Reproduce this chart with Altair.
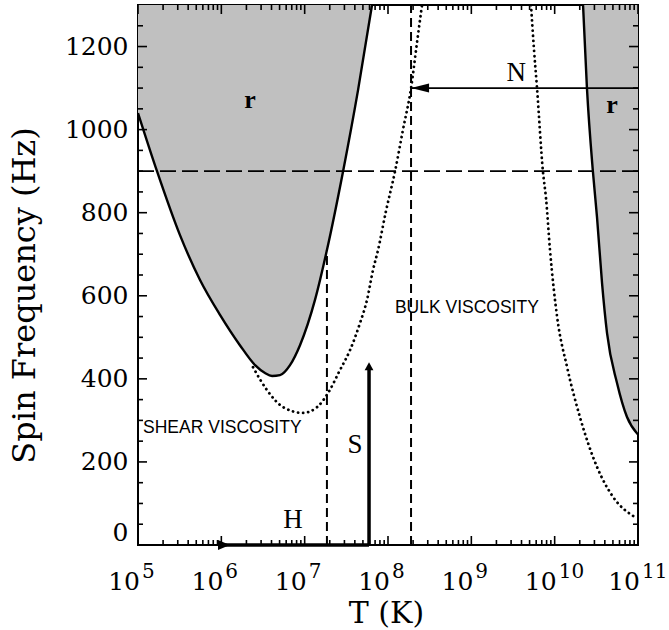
import altair as alt
import pandas as pd

# ---------------- data ----------------
# left instability window (solid boundary, shaded above)
left_T = [1.00e5, 1.69e5, 3.19e5, 5.55e5, 9.64e5, 1.67e6, 2.54e6, 3.34e6, 4.06e6,
          5.06e6, 6.67e6, 8.79e6, 1.33e7, 1.85e7, 2.88e7, 4.37e7, 6.43e7]
left_f = [1040, 900, 746, 638, 554, 481, 433, 414, 407,
          409, 433, 481, 590, 710, 898, 1095, 1300]

# right instability window (solid boundary, shaded above)
right_T = [2.19e10, 2.44e10, 2.88e10, 3.22e10, 3.70e10, 4.25e10, 5.60e10, 7.38e10, 1.0e11]
right_f = [1300, 1100, 898, 790, 631, 510, 390, 308, 266]

# dotted curves (shear + bulk viscosity)
dot_left_T = [2.40e6, 3.53e6, 5.50e6, 9.55e6, 1.41e7, 1.91e7, 2.65e7, 3.50e7, 4.61e7,
              5.60e7, 6.61e7, 7.59e7, 9.46e7, 1.21e8, 1.51e8, 1.89e8, 2.23e8, 2.56e8]
dot_left_f = [428, 373, 332, 318, 332, 366, 421, 469, 534,
              590, 662, 710, 804, 898, 999, 1100, 1210, 1300]
dot_right_T = [5.20e9, 5.65e9, 6.14e9, 7.24e9, 7.87e9, 8.79e9, 1.07e10, 1.41e10,
               2.01e10, 3.22e10, 5.01e10, 9.20e10]
dot_right_f = [1300, 1192, 1100, 898, 835, 710, 549, 428, 308, 188, 116, 67]

# reference lines
hline_f = [900]
vdash_T = [1.85e7, 1.89e8]
vdash_f0 = [0, 0]
vdash_f1 = [710, 1300]

# arrows
S_T, S_f0, S_f1, S_tip = 5.92e7, 0, 425, 440
H_T0, H_T1, H_tip, H_f = 1.0e6, 5.92e7, 1.27e6, 0
N_T0, N_T1, N_f = 1.89e8, 1.0e11, 1100

# annotations
serif_text = ["N", "S", "H"]
serif_T = [3.47e9, 4.02e7, 7.24e6]
serif_f = [1136, 241, 60]
r_T = [2.21e6, 4.88e10]
r_f = [1071, 1059]
sans_text = ["SHEAR VISCOSITY", "BULK VISCOSITY"]
sans_T = [1.15e5, 1.21e8]
sans_f = [282, 570]

# axes
x_major = [1e5, 1e6, 1e7, 1e8, 1e9, 1e10, 1e11]
x_exp = ["5", "6", "7", "8", "9", "10", "11"]
x_minor = [m * 10 ** k for k in range(5, 11) for m in range(2, 10)]
y_major = [0, 200, 400, 600, 800, 1000, 1200]
y_minor = [v for v in range(50, 1300, 50) if v % 200 != 0]

W, H = 500, 540

xs = alt.Scale(type="log", domain=[1e5, 1e11], nice=False)
ys = alt.Scale(domain=[0, 1300], nice=False)

x_axis = alt.Axis(labels=False, ticks=False, domain=False, grid=False,
                  title="T (K)", titleFont="DejaVu Serif", titleFontSize=30,
                  titleFontWeight="normal", titleColor="black",
                  titleX=248, titleY=77, titleBaseline="alphabetic", titleAlign="center")
y_axis = alt.Axis(values=y_major, format="d", ticks=False, domain=False, grid=False,
                  labelFont="DejaVu Serif", labelFontSize=25, labelColor="black",
                  labelPadding=10, labelFlush=True,
                  title="Spin Frequency (Hz)", titleFont="DejaVu Serif", titleFontSize=32,
                  titleFontWeight="normal", titleColor="black",
                  titleX=-114, titleY=290, titleBaseline="middle", titleAlign="center")

def X(field="T"):
    return alt.X(f"{field}:Q", scale=xs, axis=x_axis)

def Y(field="f"):
    return alt.Y(f"{field}:Q", scale=ys, axis=y_axis)

TOP = alt.datum(1300)

left_df = pd.DataFrame({"T": left_T, "f": left_f})
right_df = pd.DataFrame({"T": right_T, "f": right_f})
dl_df = pd.DataFrame({"T": dot_left_T, "f": dot_left_f})
dr_df = pd.DataFrame({"T": dot_right_T, "f": dot_right_f})

gray = "#c0c0c0"
layers = []

for df in (left_df, right_df):
    layers.append(alt.Chart(df).mark_area(color=gray, interpolate="monotone", clip=True)
                  .encode(x=X(), y=Y(), y2=TOP))
for df in (left_df, right_df):
    layers.append(alt.Chart(df).mark_line(color="black", strokeWidth=2.4,
                                          interpolate="monotone", clip=True)
                  .encode(x=X(), y=Y()))
for df in (dl_df, dr_df):
    layers.append(alt.Chart(df).mark_line(color="black", strokeWidth=2.8, strokeDash=[0.1, 5],
                                          strokeCap="round", interpolate="monotone", clip=True)
                  .encode(x=X(), y=Y()))

# horizontal dash line at 900 Hz
layers.append(alt.Chart(pd.DataFrame({"f": hline_f})).mark_rule(
    color="black", strokeWidth=1.8, strokeDash=[16, 6]).encode(y=Y()))

# vertical dashed lines
layers.append(alt.Chart(pd.DataFrame({"T": vdash_T, "f": vdash_f0, "f1": vdash_f1})).mark_rule(
    color="black", strokeWidth=2, strokeDash=[9, 5]).encode(x=X(), y=Y(), y2="f1:Q"))

# S arrow
layers.append(alt.Chart(pd.DataFrame({"T": [S_T], "f": [S_f0], "f1": [S_f1]})).mark_rule(
    color="black", strokeWidth=3.5).encode(x=X(), y=Y(), y2="f1:Q"))
layers.append(alt.Chart(pd.DataFrame({"T": [S_T], "f": [S_tip]})).mark_point(
    shape="M0,0 L-1.1,2 L1.1,2 Z", size=64, filled=True, color="black", opacity=1,
    strokeWidth=0).encode(x=X(), y=Y()))

# H arrow
layers.append(alt.Chart(pd.DataFrame({"T": [H_T0], "T1": [H_T1], "f": [H_f]})).mark_rule(
    color="black", strokeWidth=3.5).encode(x=X(), x2="T1:Q", y=Y()))
layers.append(alt.Chart(pd.DataFrame({"T": [H_tip], "f": [H_f]})).mark_point(
    shape="M0,0 L-2.4,-1 L-2.4,1 Z", size=100, filled=True, color="black", opacity=1,
    strokeWidth=0).encode(x=X(), y=Y()))

# N arrow
layers.append(alt.Chart(pd.DataFrame({"T": [N_T0], "T1": [N_T1], "f": [N_f]})).mark_rule(
    color="black", strokeWidth=1.8).encode(x=X(), x2="T1:Q", y=Y()))
layers.append(alt.Chart(pd.DataFrame({"T": [N_T0], "f": [N_f]})).mark_point(
    shape="M0,0 L2,-0.5 L2,0.5 Z", size=324, filled=True, color="black", opacity=1,
    strokeWidth=0).encode(x=X(), y=Y()))

# text labels
layers.append(alt.Chart(pd.DataFrame({"T": serif_T, "f": serif_f, "t": serif_text})).mark_text(
    font="Liberation Serif", fontSize=27, color="black", align="center", baseline="middle")
    .encode(x=X(), y=Y(), text="t:N"))
layers.append(alt.Chart(pd.DataFrame({"T": r_T, "f": r_f, "t": ["r", "r"]})).mark_text(
    font="Liberation Serif", fontSize=26, fontWeight="bold", color="black",
    align="center", baseline="middle").encode(x=X(), y=Y(), text="t:N"))
layers.append(alt.Chart(pd.DataFrame({"T": sans_T, "f": sans_f, "t": sans_text})).mark_text(
    font="Liberation Sans", fontSize=17.5, color="black", align="left", baseline="middle")
    .encode(x=X(), y=Y(), text="t:N"))

# inward ticks
xmaj = pd.DataFrame({"T": x_major})
xmin = pd.DataFrame({"T": x_minor})
ymaj = pd.DataFrame({"f": y_major})
ymin = pd.DataFrame({"f": y_minor})
tick_style = dict(color="black", strokeWidth=1.6)
for df, ln in ((xmaj, 9), (xmin, 5)):
    layers.append(alt.Chart(df).mark_rule(**tick_style).encode(
        x=X(), y=alt.value(H), y2=alt.value(H - ln)))
    layers.append(alt.Chart(df).mark_rule(**tick_style).encode(
        x=X(), y=alt.value(0), y2=alt.value(ln)))
for df, ln in ((ymaj, 9), (ymin, 5)):
    layers.append(alt.Chart(df).mark_rule(**tick_style).encode(
        y=Y(), x=alt.value(0), x2=alt.value(ln)))
    layers.append(alt.Chart(df).mark_rule(**tick_style).encode(
        y=Y(), x=alt.value(W), x2=alt.value(W - ln)))

# x tick labels 10^k
xl = pd.DataFrame({"T": x_major, "base": ["10"] * len(x_major), "exp": x_exp})
layers.append(alt.Chart(xl).mark_text(font="DejaVu Serif", fontSize=25, color="black",
                                      align="right", baseline="alphabetic", dx=2)
              .encode(x=X(), y=alt.value(H + 45), text="base:N"))
layers.append(alt.Chart(xl).mark_text(font="DejaVu Serif", fontSize=20, color="black",
                                      align="left", baseline="alphabetic", dx=4)
              .encode(x=X(), y=alt.value(H + 33), text="exp:N"))

chart = alt.layer(*layers).properties(
    width=W, height=H,
    autosize=alt.AutoSizeParams(type="none"),
    padding={"left": 138, "top": 5, "right": 31, "bottom": 85},
    background="white",
).configure_view(stroke="black", strokeWidth=2)

chart.save("out.html", embed_options={"renderer": "svg", "actions": False})
